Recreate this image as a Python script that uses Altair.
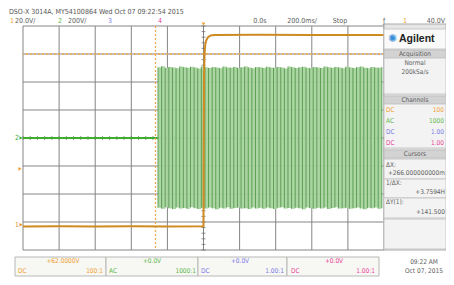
import altair as alt
import pandas as pd

# ---------------- scope settings ----------------
time_per_div_ms = 200
ch1_volts_per_div = 20.0
ch1_offset_v = 62.0
ch2_volts_per_div = 200.0
ch2_offset_v = 0.0
trigger_level_v = 40.0
cursor_x1_ms = -266
cursor_y1_v = 122.0

# ---------------- channel 1 (orange) ----------------
ch1_t = [-1000, -800, -600, -400, -200, 0, 1, 3, 6, 10, 16, 25, 40, 60, 300, 600, 1000]
ch1_v = [-1.2, -1.0, -1.3, -1.1, -1.2, -1.0, 60, 108, 123, 129, 132, 134, 135.2, 135.6, 135.8, 135.5, 135.6]

# ---------------- channel 2 (green) ----------------
ch2_flat_t = [-1000, -252]
ch2_flat_v = [0.0, 0.0]
ch2_burst_start_ms = -252
ch2_burst_step_ms = 20
ch2_top_v = [505, 512, 500, 508, 503, 498, 510, 506, 501, 509, 504, 497, 511, 505, 500, 507,
             503, 499, 510, 504, 502, 508, 500, 506, 511, 503, 498, 507, 505, 500, 509, 504,
             501, 508, 503, 497, 510, 506, 500, 505, 509, 502, 499, 507, 504, 500, 510, 505,
             501, 508, 503, 498, 509, 504, 500, 506, 510, 502, 499, 507, 504, 501, 508]
ch2_bot_v = [-498, -505, -495, -502, -508, -497, -503, -500, -506, -494, -501, -507, -499, -504, -496, -502,
             -509, -498, -503, -495, -506, -500, -497, -504, -501, -508, -496, -503, -499, -505, -497, -502,
             -507, -499, -494, -503, -500, -506, -498, -502, -509, -496, -501, -505, -499, -503, -497, -508,
             -500, -495, -504, -502, -498, -506, -501, -497, -503, -509, -499, -502, -496, -505, -500]

grid_x_div = list(range(0, 11))
grid_y_div = list(range(-4, 5))
minor_div = [i / 5 for i in range(-25, 26)]

# ---------------- derived tables ----------------
def t_of_div(d):
    return -1000 + d * time_per_div_ms

ch1 = pd.DataFrame({"t": ch1_t, "d": [(v - ch1_offset_v) / ch1_volts_per_div for v in ch1_v]})
ch2_flat = pd.DataFrame({"t": ch2_flat_t, "d": [(v - ch2_offset_v) / ch2_volts_per_div for v in ch2_flat_v]})
burst_t = [ch2_burst_start_ms + i * ch2_burst_step_ms for i in range(len(ch2_top_v))]
ch2_burst = pd.DataFrame({
    "t": burst_t,
    "top": [v / ch2_volts_per_div for v in ch2_top_v],
    "bot": [v / ch2_volts_per_div for v in ch2_bot_v],
})
vgrid = pd.DataFrame({"t": [t_of_div(d) for d in grid_x_div]})
hgrid = pd.DataFrame({"d": grid_y_div})
minor_h = pd.DataFrame({"t": [m * time_per_div_ms for m in minor_div]})
minor_v = pd.DataFrame({"d": [m for m in minor_div if abs(m) <= 4]})

XS = alt.Scale(domain=[-1000, 1000], nice=False, zero=False)
YS = alt.Scale(domain=[-4, 4], nice=False, zero=False)
FONT = "Liberation Sans Narrow, DejaVu Sans Condensed, Arial Narrow, sans-serif"

W, H = 361, 224

grid_v = alt.Chart(vgrid).mark_rule(color="#858585", strokeWidth=1).encode(
    x=alt.X("t:Q", scale=XS, axis=None))
grid_h = alt.Chart(hgrid).mark_rule(color="#858585", strokeWidth=1).encode(
    y=alt.Y("d:Q", scale=YS, axis=None))
ticks_h = alt.Chart(minor_h).mark_tick(orient="vertical", size=4, color="#666", thickness=1).encode(
    x=alt.X("t:Q", scale=XS, axis=None), y=alt.value(H / 2))
ticks_v = alt.Chart(minor_v).mark_tick(orient="horizontal", size=4, color="#666", thickness=1).encode(
    y=alt.Y("d:Q", scale=YS, axis=None), x=alt.value(W / 2))

cur_x = alt.Chart(pd.DataFrame({"t": [cursor_x1_ms]})).mark_rule(
    color="#f5a94f", strokeDash=[2, 2], strokeWidth=1.3).encode(x=alt.X("t:Q", scale=XS, axis=None))
cur_y = alt.Chart(pd.DataFrame({"d": [(cursor_y1_v - ch1_offset_v) / ch1_volts_per_div]})).mark_rule(
    color="#f5a94f", strokeDash=[2, 2], strokeWidth=1.6).encode(y=alt.Y("d:Q", scale=YS, axis=None))

band = alt.Chart(ch2_burst).mark_area(color="#a8d49e", interpolate="step-after", opacity=0.95).encode(
    x=alt.X("t:Q", scale=XS, axis=None),
    y=alt.Y("bot:Q", scale=YS, axis=None), y2="top:Q")
strokes = alt.Chart(ch2_burst).mark_rule(color="#4f9447", strokeWidth=1, opacity=0.85).encode(
    x=alt.X("t:Q", scale=XS, axis=None),
    y=alt.Y("bot:Q", scale=YS, axis=None), y2="top:Q")
flat = alt.Chart(ch2_flat).mark_line(color="#3fae2f", strokeWidth=2).encode(
    x=alt.X("t:Q", scale=XS, axis=None), y=alt.Y("d:Q", scale=YS, axis=None))
orange = alt.Chart(ch1).mark_line(color="#cf8a22", strokeWidth=2).encode(
    x=alt.X("t:Q", scale=XS, axis=None), y=alt.Y("d:Q", scale=YS, axis=None))

# ground / trigger markers on the left edge, from channel settings
marks_df = pd.DataFrame({
    "d": [(0 - ch2_offset_v) / ch2_volts_per_div, (0 - ch1_offset_v) / ch1_volts_per_div],
    "lab": ["2", "1"], "col": ["#3fae2f", "#e8912a"]})
gmark = alt.Chart(marks_df).mark_text(fontSize=7, font=FONT, align="center", baseline="middle").encode(
    y=alt.Y("d:Q", scale=YS, axis=None), x=alt.value(-6), text="lab:N", color=alt.Color("col:N", scale=None))
gtri = alt.Chart(marks_df).mark_point(shape="triangle-right", filled=True, size=12, opacity=1).encode(
    y=alt.Y("d:Q", scale=YS, axis=None), x=alt.value(-2), color=alt.Color("col:N", scale=None))
trig = alt.Chart(pd.DataFrame({"d": [(trigger_level_v - ch1_offset_v) / ch1_volts_per_div]})).mark_point(
    shape="triangle-right", filled=True, size=14, color="#f0a030", opacity=1).encode(
    y=alt.Y("d:Q", scale=YS, axis=None), x=alt.value(-3))
trigpos = alt.Chart(pd.DataFrame({"t": [0]})).mark_point(
    shape="triangle-down", filled=True, size=14, color="#f0a030", opacity=1).encode(
    x=alt.X("t:Q", scale=XS, axis=None), y=alt.value(-2))

# ---------------- panel / status decoration (pixel coordinates) ----------------
rects = pd.DataFrame([
    (361, 423, -2, 224, "#e6e6e6", "#a8a8a8"),
    (361, 423, 3, 23, "#fafafa", "#c8c8c8"),
    (361, 423, 24, 32, "#d3d3d3", "#c0c0c0"),
    (361, 423, 32, 68, "#f3f3f3", "#c8c8c8"),
    (361, 423, 70, 78, "#d3d3d3", "#c0c0c0"),
    (361, 423, 78, 122, "#f3f3f3", "#c8c8c8"),
    (361, 423, 124, 132, "#d3d3d3", "#c0c0c0"),
    (361, 423, 133, 153, "#f3f3f3", "#c8c8c8"),
    (361, 423, 153, 172, "#f3f3f3", "#c8c8c8"),
    (361, 423, 172, 192, "#f3f3f3", "#c8c8c8"),
    (361, 423, 193, 223, "#f3f3f3", "#c8c8c8"),
    (-8, 83, 231, 250, "#f7f7f3", "#b8b8b8"),
    (83, 175, 231, 250, "#f7f7f3", "#b8b8b8"),
    (175, 264, 231, 250, "#f7f7f3", "#b8b8b8"),
    (264, 356, 231, 250, "#f7f7f3", "#b8b8b8"),
], columns=["x1", "x2", "y1", "y2", "fill", "stroke"])
deco = alt.Chart(rects).mark_rect(strokeWidth=1).encode(
    x=alt.X("x1:Q", scale=None, axis=None), x2="x2:Q",
    y=alt.Y("y1:Q", scale=None, axis=None), y2="y2:Q",
    color=alt.Color("fill:N", scale=None), stroke=alt.Stroke("stroke:N", scale=None))

GRY = "#606060"
OR, GR, BL, PK = "#f0a030", "#5cb84a", "#7a7ae8", "#ec3f9a"
texts_left = pd.DataFrame([
    (-14, -14, "DSO-X 3014A, MY54100864 Wed Oct 07 09:22:54 2015", "#555555", 7),
    (-13, -5, "1", OR, 7), (-8, -5, "20.0V/", GRY, 7),
    (45, -5, "200V/", GRY, 7),
    (363, 84, "DC", OR, 6.5), (363, 95, "AC", GR, 6.5), (363, 106, "DC", BL, 6.5), (363, 117, "DC", PK, 6.5),
    (363, 139, "ΔX:", GRY, 6.5), (363, 157, "1/ΔX:", GRY, 6.5), (363, 176, "ΔY(1):", GRY, 6.5),
    (-5, 245, "DC", OR, 6.5), (86, 245, "AC", GR, 6.5), (178, 245, "DC", BL, 6.5), (268, 245, "DC", PK, 6.5),
], columns=["px", "py", "label", "col", "fs"])
texts_center = pd.DataFrame([
    (37, -5, "2", GR, 7), (87, -5, "3", BL, 7), (137, -5, "4", PK, 7),
    (237, -5, "0.0s", GRY, 7), (279, -5, "200.0ms/", GRY, 7), (317, -5, "Stop", GRY, 7),
    (361, -5, "ƒ", GRY, 7), (382, -5, "1", OR, 7),
    (392, 28, "Acquisition", GRY, 6.5), (392, 37, "Normal", GRY, 6.5), (392, 46, "200kSa/s", GRY, 6.5),
    (392, 74, "Channels", GRY, 6.5), (392, 128, "Cursors", GRY, 6.5),
    (40, 235, "+62.0000V", OR, 6.5), (129, 235, "+0.0V", GR, 6.5), (217, 235, "+0.0V", BL, 6.5),
    (311, 235, "+0.0V", PK, 6.5),
    (401, 236, "09:22 AM", GRY, 6.5), (401, 245, "Oct 07, 2015", GRY, 6.5),
], columns=["px", "py", "label", "col", "fs"])
texts_right = pd.DataFrame([
    (422, -5, "40.0V", GRY, 7),
    (421, 84, "100", OR, 6.5), (421, 95, "1000", GR, 6.5), (421, 106, "1.00", BL, 6.5), (421, 117, "1.00", PK, 6.5),
    (422, 147, "+266.000000000m", GRY, 6.5), (422, 166, "+3.7594H", GRY, 6.5), (422, 186, "+141.500", GRY, 6.5),
    (80, 245, "100:1", OR, 6.5), (173, 245, "1000:1", GR, 6.5), (261, 245, "1.00:1", BL, 6.5),
    (352, 245, "1.00:1", PK, 6.5),
], columns=["px", "py", "label", "col", "fs"])


def text_layer(df, align):
    return alt.Chart(df).mark_text(align=align, baseline="middle", font=FONT).encode(
        x=alt.X("px:Q", scale=None, axis=None), y=alt.Y("py:Q", scale=None, axis=None),
        text="label:N", color=alt.Color("col:N", scale=None), size=alt.Size("fs:Q", scale=None))


logo_star = alt.Chart(pd.DataFrame({"px": [369], "py": [13]})).mark_text(
    text="✺", fontSize=11, color="#3b8fd9", align="center", baseline="middle").encode(
    x=alt.X("px:Q", scale=None, axis=None), y=alt.Y("py:Q", scale=None, axis=None))
logo_txt = alt.Chart(pd.DataFrame({"px": [376], "py": [13]})).mark_text(
    text="Agilent", fontSize=10.5, fontWeight="bold", color="#222", align="left", baseline="middle",
    font="Liberation Sans, Arial, sans-serif").encode(
    x=alt.X("px:Q", scale=None, axis=None), y=alt.Y("py:Q", scale=None, axis=None))

chart = alt.layer(
    grid_v, grid_h, ticks_h, ticks_v, band, strokes, flat, cur_x, cur_y, orange,
    gmark, gtri, trig, trigpos,
    deco, logo_star, logo_txt,
    text_layer(texts_left, "left"), text_layer(texts_center, "center"), text_layer(texts_right, "right"),
).resolve_scale(x="independent", y="independent").properties(
    width=W, height=H,
    autosize=alt.AutoSizeParams(type="none"),
    padding={"left": 15, "top": 18, "right": 62, "bottom": 27},
    background="white",
).configure_view(stroke=None)

chart.save("out.html", embed_options={"renderer": "svg", "actions": False})
